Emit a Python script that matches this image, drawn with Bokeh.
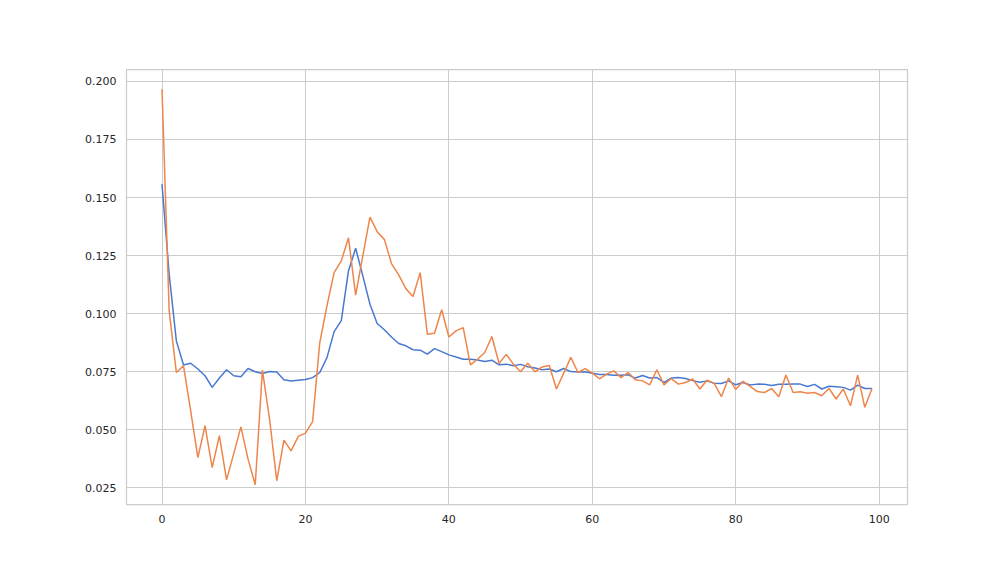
from bokeh.plotting import figure
from bokeh.models import Range1d, FixedTicker, NumeralTickFormatter
from bokeh.embed import file_html
from bokeh.resources import INLINE

steps = list(range(100))

series_blue = [
    0.1557, 0.1170, 0.0883, 0.0779, 0.0787, 0.0762, 0.0733, 0.0683, 0.0723, 0.0759,
    0.0733, 0.0729, 0.0764, 0.0750, 0.0743, 0.0751, 0.0749, 0.0716, 0.0710, 0.0714,
    0.0717, 0.0725, 0.0747, 0.0811, 0.0923, 0.0970, 0.1184, 0.1282, 0.1163, 0.1041,
    0.0958, 0.0931, 0.0900, 0.0872, 0.0862, 0.0845, 0.0843, 0.0826, 0.0850, 0.0837,
    0.0823, 0.0814, 0.0804, 0.0804, 0.0801, 0.0794, 0.0800, 0.0780, 0.0783, 0.0776,
    0.0782, 0.0772, 0.0766, 0.0759, 0.0762, 0.0750, 0.0764, 0.0751, 0.0749, 0.0750,
    0.0744, 0.0738, 0.0738, 0.0735, 0.0735, 0.0737, 0.0723, 0.0734, 0.0723, 0.0725,
    0.0704, 0.0723, 0.0725, 0.0721, 0.0712, 0.0705, 0.0711, 0.0701, 0.0700, 0.0711,
    0.0694, 0.0704, 0.0693, 0.0697, 0.0696, 0.0691, 0.0696, 0.0696, 0.0697, 0.0697,
    0.0687, 0.0696, 0.0676, 0.0688, 0.0686, 0.0683, 0.0671, 0.0693, 0.0678, 0.0678,
]

series_orange = [
    0.1966, 0.1012, 0.0747, 0.0776, 0.0582, 0.0381, 0.0518, 0.0338, 0.0475, 0.0285,
    0.0397, 0.0513, 0.0374, 0.0264, 0.0757, 0.0546, 0.0281, 0.0456, 0.0410, 0.0472,
    0.0486, 0.0536, 0.0876, 0.1034, 0.1177, 0.1227, 0.1327, 0.1080, 0.1249, 0.1416,
    0.1353, 0.1320, 0.1216, 0.1167, 0.1108, 0.1074, 0.1177, 0.0912, 0.0916, 0.1017,
    0.0900, 0.0926, 0.0940, 0.0780, 0.0804, 0.0833, 0.0902, 0.0786, 0.0825, 0.0783,
    0.0750, 0.0787, 0.0750, 0.0771, 0.0777, 0.0676, 0.0743, 0.0812, 0.0747, 0.0764,
    0.0744, 0.0720, 0.0740, 0.0754, 0.0725, 0.0747, 0.0716, 0.0711, 0.0694, 0.0759,
    0.0694, 0.0721, 0.0697, 0.0704, 0.0719, 0.0676, 0.0714, 0.0700, 0.0643, 0.0723,
    0.0674, 0.0709, 0.0687, 0.0665, 0.0661, 0.0678, 0.0643, 0.0736, 0.0661, 0.0664,
    0.0658, 0.0661, 0.0647, 0.0678, 0.0633, 0.0676, 0.0604, 0.0736, 0.0597, 0.0678,
]

x_ticks = [0, 20, 40, 60, 80, 100]
y_ticks = [0.025, 0.050, 0.075, 0.100, 0.125, 0.150, 0.175, 0.200]

# matplotlib-style 5% margins
xmin, xmax = min(steps), max(steps)
xpad = 0.05 * (xmax - xmin)
allv = series_blue + series_orange
ymin, ymax = min(allv), max(allv)
ypad = 0.05 * (ymax - ymin)

p = figure(
    width=992, height=560,
    output_backend="svg", toolbar_location=None,
    x_range=Range1d(xmin - xpad, xmax + xpad),
    y_range=Range1d(ymin - ypad, ymax + ypad),
    min_border_left=126, min_border_right=85,
    min_border_top=69, min_border_bottom=56,
    background_fill_color="white", border_fill_color="white",
)

p.line(steps, series_blue, line_color="#4878D0", line_width=1.5)
p.line(steps, series_orange, line_color="#EE854A", line_width=1.5)

p.outline_line_color = "#cccccc"
p.outline_line_width = 1.25

for g in (p.xgrid, p.ygrid):
    g.grid_line_color = "#cccccc"
    g.grid_line_width = 1

p.xaxis.ticker = FixedTicker(ticks=x_ticks)
p.yaxis.ticker = FixedTicker(ticks=y_ticks)
p.xgrid.ticker = FixedTicker(ticks=x_ticks)
p.ygrid.ticker = FixedTicker(ticks=y_ticks)
p.yaxis.formatter = NumeralTickFormatter(format="0.000")

for ax in (p.xaxis, p.yaxis):
    ax.axis_line_color = None
    ax.major_tick_line_color = None
    ax.minor_tick_line_color = None
    ax.major_tick_out = 0
    ax.major_tick_in = 0
    ax.major_label_text_font = "DejaVu Sans"
    ax.major_label_text_font_size = "11px"
    ax.major_label_text_color = "#262626"
    ax.major_label_standoff = 10

open("out.html", "w").write(file_html(p, INLINE))
